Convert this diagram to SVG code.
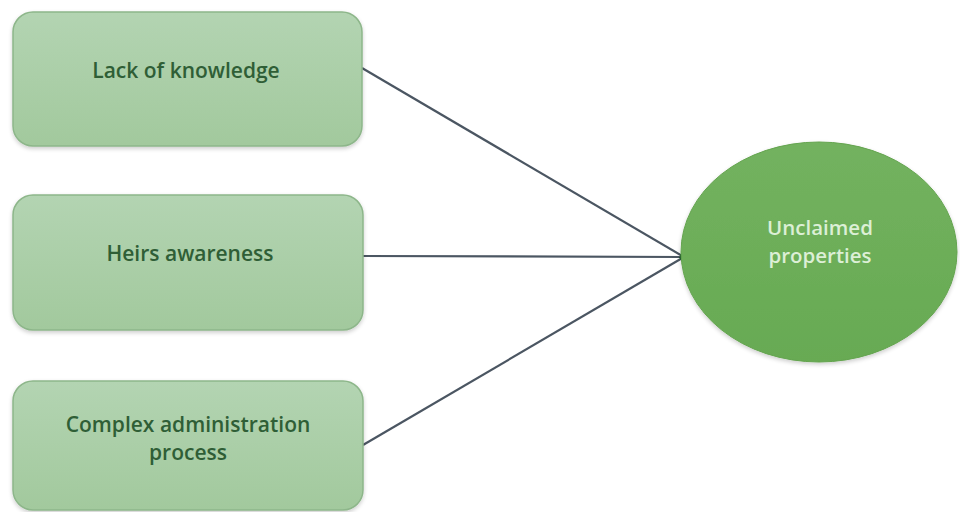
<svg xmlns="http://www.w3.org/2000/svg" width="960" height="512" viewBox="0 0 960 512">
<defs>
<linearGradient id="boxg" x1="0" y1="0" x2="0" y2="1">
<stop offset="0" stop-color="#b3d4b2"/>
<stop offset="1" stop-color="#a2c99d"/>
</linearGradient>
<linearGradient id="ellg" x1="0" y1="0" x2="0" y2="1">
<stop offset="0" stop-color="#73b25f"/>
<stop offset="1" stop-color="#67aa53"/>
</linearGradient>
<filter id="sh" x="-10%" y="-10%" width="120%" height="130%">
<feGaussianBlur in="SourceAlpha" stdDeviation="2"/>
<feOffset dx="0" dy="2"/>
<feComponentTransfer><feFuncA type="linear" slope="0.2"/></feComponentTransfer>
<feMerge><feMergeNode/><feMergeNode in="SourceGraphic"/></feMerge>
</filter>
<marker id="tip" viewBox="0 0 6 6" refX="5" refY="3" markerWidth="2.4" markerHeight="2.4" orient="auto" markerUnits="strokeWidth">
<path d="M0,0 L6,3 L0,6 z" fill="#1e5a2c"/>
</marker>
</defs>
<style>
.box{fill:url(#boxg);stroke:#8db68a;stroke-width:1.5}
.bt{font-family:"Open Sans","Liberation Sans",sans-serif;font-size:21px;font-weight:600;fill:#2f5e36;text-anchor:middle}
.et{font-family:"Open Sans","Liberation Sans",sans-serif;font-size:20.5px;font-weight:600;fill:#dcefd6;text-anchor:middle}
.ln{stroke:#4b5662;stroke-width:2.2;fill:none;marker-end:url(#tip)}
</style>
<rect width="960" height="512" fill="#ffffff"/>
<g id="connectors">
<line class="ln" x1="362" y1="68" x2="684" y2="257"/>
<line class="ln" x1="363" y1="256" x2="684" y2="257"/>
<line class="ln" x1="363" y1="445" x2="684" y2="257"/>
</g>
<g id="lack">
<rect class="box" x="13" y="12" width="349" height="134" rx="20" filter="url(#sh)"/>
<text class="bt" x="186" y="78">Lack of knowledge</text>
</g>
<g id="heirs">
<rect class="box" x="13" y="195" width="350" height="135" rx="20" filter="url(#sh)"/>
<text class="bt" x="190" y="261">Heirs awareness</text>
</g>
<g id="complex">
<rect class="box" x="13" y="381" width="350" height="129" rx="20" filter="url(#sh)"/>
<text class="bt" x="188" y="432">Complex administration</text>
<text class="bt" x="188" y="460">process</text>
</g>
<g id="unclaimed">
<ellipse cx="819" cy="252" rx="138" ry="110" fill="url(#ellg)" stroke="#64a44f" stroke-width="1" filter="url(#sh)"/>
<text class="et" x="820" y="235">Unclaimed</text>
<text class="et" x="820" y="263">properties</text>
</g>
</svg>
